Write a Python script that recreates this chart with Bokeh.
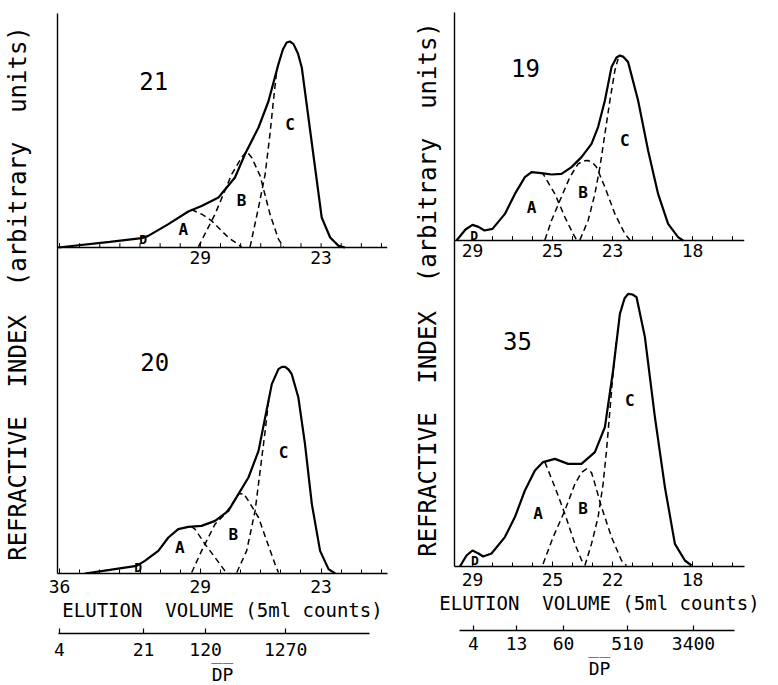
import numpy as np
from bokeh.plotting import figure
from bokeh.models import Range1d, FixedTicker, Span
from bokeh.layouts import row, column
from bokeh.embed import file_html
from bokeh.resources import INLINE
from bokeh.core.properties import value

FONT = "DejaVu Sans Mono"

# ---------------- data (elution volume in 5 ml counts, refractive index in arbitrary units) ----
# sample 21 (upper left)
elu_21 = [36.07, 33.5, 31.92, 31.59, 30.59, 29.60, 28.94, 28.10, 27.28, 26.78, 26.11, 25.62,
          25.12, 24.9, 24.71, 24.55, 24.37, 24.15, 23.96, 23.63, 23.30, 22.97, 22.55, 22.13, 21.82]
ri_21 = [0, 2.8, 4.7, 5.8, 11.7, 18, 20.8, 25, 35, 46.7, 60, 73,
         91.7, 99, 102.5, 103, 101.7, 97, 90, 65, 40, 15, 5, 0.8, 0]
a21_e = [29.45, 28.9, 28.44, 27.61, 26.95]
a21_h = [19.0, 16.5, 13.3, 5, 0.3]
b21_e = [29.1, 28.27, 27.44, 26.95, 26.7, 26.45, 26.03, 25.54, 25.12, 24.87]
b21_h = [0.3, 16.7, 36.7, 45, 48, 45, 35.8, 16.7, 4.2, 0.3]
c21_e = [26.53, 26.11, 25.78, 25.54, 25.37, 25.2]
c21_h = [0.3, 20, 36.7, 56.7, 73.3, 89]

# sample 20 (lower left)
elu_20 = [34.74, 33.5, 32.17, 31.76, 31.09, 30.59, 30.1, 29.6, 28.94, 28.27, 27.61, 27.11, 26.61,
          26.11, 25.78, 25.45, 25.12, 24.95, 24.79, 24.62, 24.46, 24.13, 23.8, 23.46, 23.05, 22.63, 22.3]
ri_20 = [0, 1.8, 3.8, 6.3, 11.3, 18, 22.2, 23.3, 23.8, 26.3, 31.3, 39.7, 48,
         61.3, 78, 94.7, 102.2, 103.3, 103.3, 102, 99.7, 88, 64.7, 34.7, 11.3, 2.2, 0]
a20_e = [29.45, 29.27, 28.77, 28.27, 27.78, 27.6]
a20_h = [23.5, 22.2, 14.7, 8, 1.3, 0.2]
b20_e = [29.43, 28.94, 28.27, 27.78, 27.4, 27.11, 26.85, 26.61, 26.11, 25.7, 25.29, 25.12]
b20_h = [0.5, 11.3, 24.7, 29.7, 35, 39.7, 40, 36.3, 28, 16.3, 4.7, 0.5]
c20_e = [27.19, 26.7, 26.28, 26.03, 25.78, 25.6]
c20_h = [0.5, 11.3, 31.3, 51.3, 71.3, 87]

# sample 19 (upper right)
elu_19 = [29.8, 29.35, 29.0, 28.7, 28.4, 28.0, 27.38, 26.88, 26.38, 26.05, 25.55, 25.05, 24.55,
          24.05, 23.55, 23.05, 22.72, 22.38, 22.05, 21.8, 21.63, 21.45, 21.22, 20.72, 20.22,
          19.72, 19.22, 18.72, 18.47]
ri_19 = [0, 5.5, 7.8, 6.8, 5, 5.8, 13.3, 23.3, 31.7, 34.2, 33.7, 33, 33.3,
         36.7, 41.7, 48.3, 56.7, 70, 86.7, 91.5, 92.5, 91.8, 89.2, 70, 45,
         23.3, 8.3, 1.7, 0]
a19_e = [25.6, 25.47, 24.88, 24.38, 23.97, 23.8]
a19_h = [33.7, 33.3, 23.3, 11.7, 3.3, 0.3]
b19_e = [25.38, 25.05, 24.63, 24.13, 23.72, 23.45, 23.22, 23.0, 22.8, 22.38, 21.88, 21.38, 21.13]
b19_h = [0.3, 10, 20, 31.7, 38.3, 39.8, 40, 39, 36.7, 26.7, 13.3, 3.3, 0.3]
c19_e = [23.63, 23.22, 22.88, 22.63, 22.38, 22.13, 21.88, 21.72]
c19_h = [0.3, 10, 23.3, 36.7, 53.3, 70, 85, 90.8]

# sample 35 (lower right)
elu_35 = [29.63, 29.3, 29.0, 28.7, 28.47, 28.05, 27.38, 26.88, 26.38, 25.88, 25.47, 24.88, 24.22,
          23.55, 22.88, 22.38, 21.97, 21.63, 21.4, 21.22, 21.0, 20.8, 20.38, 19.88, 19.38,
          18.88, 18.38, 18.05]
ri_35 = [0, 5.5, 8, 6.5, 5, 6.5, 14.7, 24.7, 38, 48, 52.2, 53.8, 51.3,
         51.3, 57.2, 69.7, 98, 126.3, 134, 136.3, 136, 134.7, 114.7, 74.7, 39.7,
         11.3, 3, 0.5]
a35_e = [25.38, 24.88, 24.38, 23.88, 23.47]
a35_h = [52.2, 39.7, 26.3, 11.3, 1.3]
b35_e = [25.47, 24.97, 24.38, 23.88, 23.55, 23.3, 23.05, 22.88, 22.55, 22.05, 21.55, 21.3]
b35_h = [1.3, 14.7, 28, 41.3, 47, 48.8, 47, 41.3, 29.7, 14.7, 3, 0.5]
c35_e = [23.38, 23.05, 22.72, 22.47, 22.3, 22.13, 21.97, 21.8]
c35_h = [0.5, 11.3, 24.7, 41.3, 58, 78, 97, 114]

# peak letters: (elution, height) per panel
letters = ["A", "B", "C", "D"]
lab21_e = [29.85, 26.95, 24.54, 31.84]
lab21_h = [9.2, 23.3, 61.7, 4.2]
lab20_e = [30.02, 27.36, 24.87, 32.09]
lab20_h = [13, 19.7, 60.5, 3]
lab19_e = [26.05, 23.47, 21.38, 28.92]
lab19_h = [16.7, 24.2, 50, 2.5]
lab35_e = [25.72, 23.47, 21.13, 28.88]
lab35_h = [26.3, 28.8, 83, 3]

# sample numbers
names = ["21", "20", "19", "35"]
name_e = [31.32, 31.27, 26.35, 26.75]
name_h = [83.5, 106, 86.5, 113]

# elution tick labels
top_left_ticks = [29, 23]
top_left_text = ["29", "23"]
bot_left_ticks = [36, 29, 23]
top_right_ticks = [29, 25, 22, 18]
top_right_text = ["29", "25", "23", "18"]
bot_right_ticks = [29, 25, 22, 18]

# DP scale (degree of polymerisation) vs elution
dpL_pos = [36.0, 31.82, 28.74, 24.76]
dpL_lab = ["4", "21", "120", "1270"]
dpL_line = [20.58, 36.05]
dpR_pos = [28.95, 26.8, 24.45, 21.25, 17.95]
dpR_lab = ["4", "13", "60", "510", "3400"]
dpR_line = [15.9, 29.65]

NB = "\u00a0"
YLABEL = "REFRACTIVE " + NB + "INDEX " + NB + "(arbitrary " + NB + "units)"
XLABEL = "ELUTION " + NB + "VOLUME (5ml counts)"
DPLABEL = "D\u0305P\u0305"


def style_text(**kw):
    d = dict(text_font=value(FONT), text_color="black")
    d.update(kw)
    return d


def build_column(cfg):
    x0, x1 = cfg["xr"]
    fw, fh = cfg["fw"], cfg["fh"]
    ymax = fh / 2.0
    off = cfg["off"]
    xr = Range1d(x0, x1)
    p = figure(output_backend="svg", toolbar_location=None,
               x_range=xr, y_range=Range1d(0, ymax),
               frame_width=fw, frame_height=fh,
               min_border_left=cfg["bl"], min_border_right=cfg["br"],
               min_border_top=cfg["bt"], min_border_bottom=52)
    p.outline_line_color = None
    p.grid.visible = False
    p.background_fill_color = "white"
    p.border_fill_color = "white"

    minor = [v for v in range(int(min(x0, x1)) + 1, int(max(x0, x1)) + 1)]
    xa = p.xaxis[0]
    xa.ticker = FixedTicker(ticks=cfg["bot_ticks"], minor_ticks=minor)
    xa.axis_line_width = 1.6
    xa.axis_line_color = "black"
    xa.major_tick_in = 5
    xa.major_tick_out = 0
    xa.minor_tick_in = 4
    xa.minor_tick_out = 0
    xa.major_tick_line_color = "black"
    xa.minor_tick_line_color = "black"
    xa.major_label_standoff = 6
    xa.major_label_text_font = FONT
    xa.major_label_text_font_size = "18px"
    xa.major_label_text_color = "black"
    xa.axis_label = XLABEL
    xa.axis_label_text_font = FONT
    xa.axis_label_text_font_size = "19px"
    xa.axis_label_text_font_style = "normal"
    xa.axis_label_text_color = "black"
    xa.axis_label_standoff = 3

    ya = p.yaxis[0]
    ya.ticker = FixedTicker(ticks=[])
    ya.major_tick_in = 0
    ya.major_tick_out = 0
    ya.minor_tick_in = 0
    ya.minor_tick_out = 0
    ya.axis_line_width = 1.4
    ya.axis_line_color = "black"
    ya.axis_label = YLABEL
    ya.axis_label_text_font = FONT
    ya.axis_label_text_font_size = "24px"
    ya.axis_label_text_font_style = "normal"
    ya.axis_label_text_color = "black"
    ya.axis_label_standoff = cfg["ylab_standoff"]

    # upper panel baseline with its ticks and labels
    p.add_layout(Span(location=off, dimension="width", line_color="black", line_width=1.6))
    p.segment(x0=minor, y0=[off] * len(minor), x1=minor, y1=[off + 2.2] * len(minor),
              line_color="black", line_width=1)
    p.text(x=cfg["top_ticks"], y=[off] * len(cfg["top_ticks"]), text=cfg["top_text"],
           text_align="center", text_baseline="top", y_offset=cfg["top_lab_dy"],
           text_font_size="18px", **style_text())

    # curves: upper panel (offset) and lower panel
    for (e, h, comps, labe, labh, nm_i), base in ((cfg["upper"], off), (cfg["lower"], 0)):
        p.line(e, np.array(h) + base, line_color="black", line_width=2.2)
        for ce, ch in comps:
            p.line(ce, np.array(ch) + base, line_color="black", line_width=1.5, line_dash="6 4")
        p.text(x=labe[:3], y=np.array(labh[:3]) + base, text=letters[:3],
               text_align="center", text_baseline="middle", text_font_size="16px",
               text_font_style="bold", **style_text())
        p.text(x=labe[3:], y=np.array(labh[3:]) + base, text=letters[3:],
               text_align="center", text_baseline="middle", text_font_size="13px",
               text_font_style="bold", **style_text())
        p.text(x=[name_e[nm_i]], y=[name_h[nm_i] + base], text=[names[nm_i]],
               text_align="center", text_baseline="middle", text_font_size="24px", **style_text())
    return p, xr


def build_dp(cfg, xr):
    q = figure(output_backend="svg", toolbar_location=None,
               x_range=xr, y_range=Range1d(0, 1),
               frame_width=cfg["fw"], frame_height=cfg["dp_gap"],
               min_border_left=cfg["bl"], min_border_right=cfg["br"],
               min_border_top=0, min_border_bottom=0, y_axis_type=None)
    q.outline_line_color = None
    q.grid.visible = False
    q.background_fill_color = "white"
    q.border_fill_color = "white"
    xa = q.xaxis[0]
    pos, lab = cfg["dp_pos"], cfg["dp_lab"]
    xa.ticker = FixedTicker(ticks=pos, minor_ticks=[])
    xa.major_label_overrides = {v: t for v, t in zip(pos, lab)}
    xa.bounds = tuple(cfg["dp_line"])
    xa.axis_line_width = 1.3
    xa.axis_line_color = "black"
    xa.major_tick_in = 5
    xa.major_tick_out = 0
    xa.major_tick_line_color = "black"
    xa.major_tick_line_width = 1.2
    xa.major_label_standoff = cfg["dp_lab_standoff"]
    xa.major_label_text_font = FONT
    xa.major_label_text_font_size = "18px"
    xa.major_label_text_color = "black"
    xa.axis_label = DPLABEL
    xa.axis_label_text_font = FONT
    xa.axis_label_text_font_size = "18px"
    xa.axis_label_text_font_style = "normal"
    xa.axis_label_text_color = "black"
    xa.axis_label_standoff = cfg["dp_title_standoff"]
    return q


left_cfg = dict(
    xr=(36.1, 19.7), fw=330, fh=560, off=163, bl=56, br=12, bt=13, ylab_standoff=26,
    bot_ticks=bot_left_ticks, top_ticks=top_left_ticks, top_text=top_left_text, top_lab_dy=3,
    upper=(elu_21, ri_21, [(a21_e, a21_h), (b21_e, b21_h), (c21_e, c21_h)], lab21_e, lab21_h, 0),
    lower=(elu_20, ri_20, [(a20_e, a20_h), (b20_e, b20_h), (c20_e, c20_h)], lab20_e, lab20_h, 1),
    dp_gap=8, dp_lab_standoff=9, dp_title_standoff=5,
    dp_pos=dpL_pos, dp_lab=dpL_lab, dp_line=dpL_line,
)
right_cfg = dict(
    xr=(29.9, 15.4), fw=290, fh=554, off=163, bl=55, br=35, bt=12, ylab_standoff=13,
    bot_ticks=bot_right_ticks, top_ticks=top_right_ticks, top_text=top_right_text, top_lab_dy=3,
    upper=(elu_19, ri_19, [(a19_e, a19_h), (b19_e, b19_h), (c19_e, c19_h)], lab19_e, lab19_h, 2),
    lower=(elu_35, ri_35, [(a35_e, a35_h), (b35_e, b35_h), (c35_e, c35_h)], lab35_e, lab35_h, 3),
    dp_gap=12, dp_lab_standoff=6, dp_title_standoff=5,
    dp_pos=dpR_pos, dp_lab=dpR_lab, dp_line=dpR_line,
)

pL, xrL = build_column(left_cfg)
qL = build_dp(left_cfg, xrL)
pR, xrR = build_column(right_cfg)
qR = build_dp(right_cfg, xrR)

layout = row(column(pL, qL), column(pR, qR))
open("out.html", "w").write(file_html(layout, INLINE))
